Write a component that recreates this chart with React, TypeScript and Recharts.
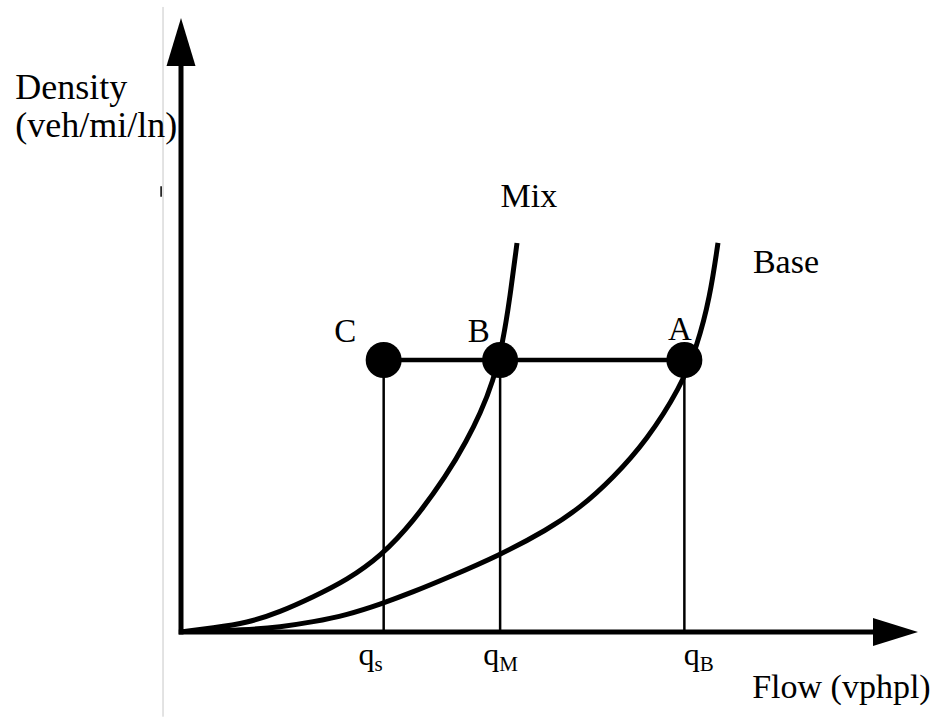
import { LineChart, Line, XAxis, YAxis, ReferenceLine, ReferenceDot } from "recharts";

// density vs flow sketch for base and mixed traffic (arbitrary 0-100 units)
const mixFlow = [0, 4.34, 8.96, 13.43, 17.91, 22.52, 27.14, 31.48, 36.09, 38.81, 40.57, 42.33, 43.69, 44.64, 45.59];
const mixDensity = [0, 0.65, 1.47, 3.26, 5.7, 8.47, 12.38, 17.92, 25.57, 31.27, 35.5, 40.72, 47.23, 54.56, 63.36];
const baseFlow = [0, 8.96, 13.43, 17.91, 22.52, 27.14, 31.48, 36.09, 43.28, 49.66, 54.14, 58.62, 63.23, 67.71, 70.01, 71.78, 72.86];
const baseDensity = [0, 0.33, 0.81, 1.63, 2.77, 4.56, 6.51, 8.79, 12.54, 16.61, 20.2, 25.08, 31.27, 39.74, 46.42, 54.56, 63.36];

const pointNames = ["C", "B", "A"];
const pointFlow = [27.5, 43.3, 68.3];
const pointDensity = 44.3;
const flowSubs = ["s", "M", "B"];

const FONT = "'Liberation Serif', 'Times New Roman', serif";

const mixData = mixFlow.map((f, i) => ({ flow: f, density: mixDensity[i] }));
const baseData = baseFlow.map((f, i) => ({ flow: f, density: baseDensity[i] }));

// label anchors in data units
const pointLabelPos = [
  { x: 22.3, y: 47.2 },
  { x: 40.4, y: 47.2 },
  { x: 67.7, y: 47.5 },
];
const subLabelPos = [24.1, 41.0, 68.2];

function textShape(text: string, size: number, anchor: "start" | "middle" | "end" = "start") {
  return (p: any) => (
    <text x={p.cx} y={p.cy} fontSize={size} textAnchor={anchor} fontFamily={FONT} fill="#000">
      {text}
    </text>
  );
}

function qShape(sub: string) {
  return (p: any) => (
    <text x={p.cx} y={p.cy} fontSize={32} fontFamily={FONT} fill="#000">
      q
      <tspan fontSize={21} dy={6}>
        {sub}
      </tspan>
    </text>
  );
}

const ArrowRight = (p: any) => (
  <polygon
    points={`${p.cx},${p.cy} ${p.cx - 45},${p.cy - 14} ${p.cx - 45},${p.cy + 14}`}
    fill="#000"
  />
);

const ArrowUp = (p: any) => (
  <polygon
    points={`${p.cx},${p.cy} ${p.cx - 14.5},${p.cy + 48} ${p.cx + 14.5},${p.cy + 48}`}
    fill="#000"
  />
);

export default function App() {
  return (
    <div style={{ position: "absolute", left: 0, top: 0, width: 943, height: 719, background: "#fff" }}>
      <LineChart width={943} height={719} margin={{ top: 18, right: 25, left: 181, bottom: 87 }}>
        <XAxis dataKey="flow" type="number" domain={[0, 100]} hide allowDataOverflow />
        <YAxis dataKey="density" type="number" domain={[0, 100]} hide allowDataOverflow />

        {/* scanner edge */}
        <ReferenceLine
          segment={[{ x: -2.44, y: 101.8 }, { x: -2.44, y: -13.8 }]}
          stroke="#c8c8c8"
          strokeWidth={1}
          ifOverflow="visible"
        />
        <ReferenceLine
          segment={[{ x: -2.7, y: 72.6 }, { x: -2.7, y: 70.9 }]}
          stroke="#000"
          strokeWidth={1.5}
          ifOverflow="visible"
        />

        {/* axes */}
        <ReferenceLine segment={[{ x: -0.3, y: 0 }, { x: 93.9, y: 0 }]} stroke="#000" strokeWidth={5} ifOverflow="visible" />
        <ReferenceLine segment={[{ x: 0, y: -0.4 }, { x: 0, y: 92.2 }]} stroke="#000" strokeWidth={5} ifOverflow="visible" />
        <ReferenceDot x={100} y={0} r={1} shape={ArrowRight} ifOverflow="visible" />
        <ReferenceDot x={0} y={100} r={1} shape={ArrowUp} ifOverflow="visible" />

        {/* drop lines and connector */}
        {pointFlow.map((f, i) => (
          <ReferenceLine
            key={"v" + i}
            segment={[{ x: f, y: 0 }, { x: f, y: pointDensity }]}
            stroke="#000"
            strokeWidth={2.5}
          />
        ))}
        <ReferenceLine
          segment={[{ x: pointFlow[0], y: pointDensity }, { x: pointFlow[2], y: pointDensity }]}
          stroke="#000"
          strokeWidth={4.5}
        />

        <Line data={mixData} dataKey="density" type="basis" stroke="#000" strokeWidth={5} dot={false} activeDot={false} isAnimationActive={false} />
        <Line data={baseData} dataKey="density" type="basis" stroke="#000" strokeWidth={5} dot={false} activeDot={false} isAnimationActive={false} />

        {pointFlow.map((f, i) => (
          <ReferenceDot key={"d" + i} x={f} y={pointDensity} r={18} fill="#000" stroke="none" />
        ))}
        {pointNames.map((n, i) => (
          <ReferenceDot key={"l" + i} x={pointLabelPos[i].x} y={pointLabelPos[i].y} r={1} shape={textShape(n, 33, "middle")} />
        ))}
        {flowSubs.map((s, i) => (
          <ReferenceDot key={"q" + i} x={subLabelPos[i]} y={-5.4} r={1} shape={qShape(s)} ifOverflow="visible" />
        ))}

        <ReferenceDot x={47.2} y={69.2} r={1} shape={textShape("Mix", 34, "middle")} />
        <ReferenceDot x={77.6} y={58.5} r={1} shape={textShape("Base", 34)} />
        <ReferenceDot x={77.5} y={-10.7} r={1} shape={textShape("Flow (vphpl)", 34)} ifOverflow="visible" />
        <ReferenceDot x={-22.5} y={86.8} r={1} shape={textShape("Density", 36)} ifOverflow="visible" />
        <ReferenceDot x={-22.5} y={80.6} r={1} shape={textShape("(veh/mi/ln)", 36)} ifOverflow="visible" />
      </LineChart>
    </div>
  );
}
